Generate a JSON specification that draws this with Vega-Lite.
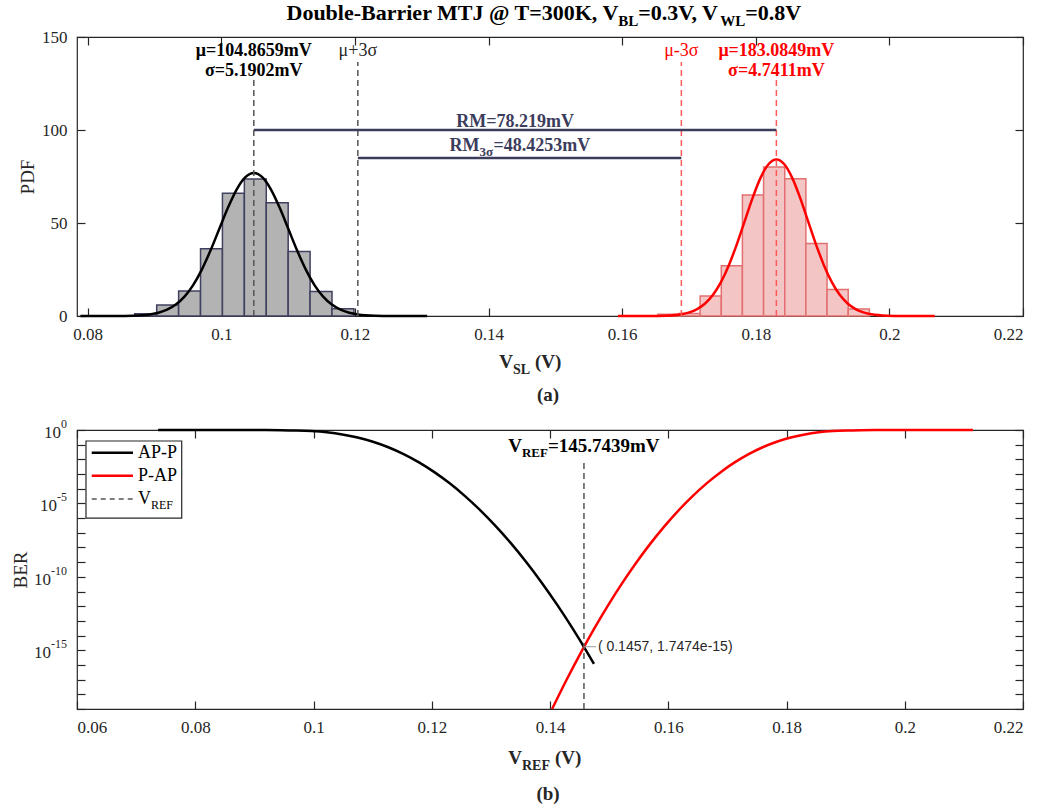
{
  "$schema": "https://vega.github.io/schema/vega-lite/v6.json",
  "background": "white",
  "padding": {"left": 10, "top": 1, "right": 0, "bottom": 2},
  "spacing": 114,
  "bounds": "flush",
  "config": {
    "view": {"stroke": "#262626", "strokeWidth": 1.2},
    "font": "Liberation Serif",
    "axis": {
      "labelFont": "Liberation Serif", "labelFontSize": 17, "labelColor": "#262626",
      "tickColor": "#262626", "tickSize": -8, "tickWidth": 1.2, "domain": false, "grid": false,
      "labelPadding": 18, "titleFont": "Liberation Serif", "titleFontSize": 19,
      "titleFontWeight": "normal", "titleColor": "#262626"
    }
  },
  "datasets": {
    "hist": [
      {"group": "AP", "x0": 0.08705, "x1": 0.09033, "pdf": 1.25},
      {"group": "AP", "x0": 0.09033, "x1": 0.09361, "pdf": 5.9},
      {"group": "AP", "x0": 0.09361, "x1": 0.09689, "pdf": 13.4},
      {"group": "AP", "x0": 0.09689, "x1": 0.10017, "pdf": 36.1},
      {"group": "AP", "x0": 0.10017, "x1": 0.10345, "pdf": 66.0},
      {"group": "AP", "x0": 0.10345, "x1": 0.10673, "pdf": 73.7},
      {"group": "AP", "x0": 0.10673, "x1": 0.11001, "pdf": 60.9},
      {"group": "AP", "x0": 0.11001, "x1": 0.11329, "pdf": 34.7},
      {"group": "AP", "x0": 0.11329, "x1": 0.11657, "pdf": 13.2},
      {"group": "AP", "x0": 0.11657, "x1": 0.11985, "pdf": 3.9},
      {"group": "P", "x0": 0.16534, "x1": 0.16850, "pdf": 0.9},
      {"group": "P", "x0": 0.16850, "x1": 0.17167, "pdf": 1.3},
      {"group": "P", "x0": 0.17167, "x1": 0.17484, "pdf": 10.7},
      {"group": "P", "x0": 0.17484, "x1": 0.17800, "pdf": 27.0},
      {"group": "P", "x0": 0.17800, "x1": 0.18117, "pdf": 65.0},
      {"group": "P", "x0": 0.18117, "x1": 0.18434, "pdf": 80.1},
      {"group": "P", "x0": 0.18434, "x1": 0.18750, "pdf": 73.8},
      {"group": "P", "x0": 0.18750, "x1": 0.19067, "pdf": 39.0},
      {"group": "P", "x0": 0.19067, "x1": 0.19384, "pdf": 14.3},
      {"group": "P", "x0": 0.19384, "x1": 0.19700, "pdf": 3.8}
    ],
    "pdf": [
      {"group": "AP", "v": 0.078915, "pdf": 0.0003},
      {"group": "AP", "v": 0.081510, "pdf": 0.003},
      {"group": "AP", "v": 0.084105, "pdf": 0.026},
      {"group": "AP", "v": 0.086700, "pdf": 0.168},
      {"group": "AP", "v": 0.089295, "pdf": 0.854},
      {"group": "AP", "v": 0.090593, "pdf": 1.75},
      {"group": "AP", "v": 0.091890, "pdf": 3.38},
      {"group": "AP", "v": 0.093188, "pdf": 6.12},
      {"group": "AP", "v": 0.094486, "pdf": 10.40},
      {"group": "AP", "v": 0.095783, "pdf": 16.62},
      {"group": "AP", "v": 0.097081, "pdf": 24.96},
      {"group": "AP", "v": 0.098378, "pdf": 35.19},
      {"group": "AP", "v": 0.099676, "pdf": 46.62},
      {"group": "AP", "v": 0.100973, "pdf": 58.02},
      {"group": "AP", "v": 0.102271, "pdf": 67.84},
      {"group": "AP", "v": 0.103568, "pdf": 74.51},
      {"group": "AP", "v": 0.104866, "pdf": 76.87},
      {"group": "AP", "v": 0.106164, "pdf": 74.51},
      {"group": "AP", "v": 0.107461, "pdf": 67.84},
      {"group": "AP", "v": 0.108759, "pdf": 58.02},
      {"group": "AP", "v": 0.110056, "pdf": 46.62},
      {"group": "AP", "v": 0.111354, "pdf": 35.19},
      {"group": "AP", "v": 0.112651, "pdf": 24.96},
      {"group": "AP", "v": 0.113949, "pdf": 16.62},
      {"group": "AP", "v": 0.115246, "pdf": 10.40},
      {"group": "AP", "v": 0.116544, "pdf": 6.12},
      {"group": "AP", "v": 0.117841, "pdf": 3.38},
      {"group": "AP", "v": 0.119139, "pdf": 1.75},
      {"group": "AP", "v": 0.120437, "pdf": 0.854},
      {"group": "AP", "v": 0.123032, "pdf": 0.168},
      {"group": "AP", "v": 0.125627, "pdf": 0.026},
      {"group": "AP", "v": 0.128222, "pdf": 0.003},
      {"group": "AP", "v": 0.130817, "pdf": 0.0003},
      {"group": "P", "v": 0.159379, "pdf": 0.0003},
      {"group": "P", "v": 0.161750, "pdf": 0.0034},
      {"group": "P", "v": 0.164121, "pdf": 0.028},
      {"group": "P", "v": 0.166491, "pdf": 0.184},
      {"group": "P", "v": 0.168862, "pdf": 0.935},
      {"group": "P", "v": 0.170047, "pdf": 1.92},
      {"group": "P", "v": 0.171232, "pdf": 3.70},
      {"group": "P", "v": 0.172417, "pdf": 6.70},
      {"group": "P", "v": 0.173603, "pdf": 11.39},
      {"group": "P", "v": 0.174788, "pdf": 18.20},
      {"group": "P", "v": 0.175973, "pdf": 27.32},
      {"group": "P", "v": 0.177159, "pdf": 38.53},
      {"group": "P", "v": 0.178344, "pdf": 51.04},
      {"group": "P", "v": 0.179529, "pdf": 63.52},
      {"group": "P", "v": 0.180714, "pdf": 74.26},
      {"group": "P", "v": 0.181900, "pdf": 81.56},
      {"group": "P", "v": 0.183085, "pdf": 84.15},
      {"group": "P", "v": 0.184270, "pdf": 81.56},
      {"group": "P", "v": 0.185456, "pdf": 74.26},
      {"group": "P", "v": 0.186641, "pdf": 63.52},
      {"group": "P", "v": 0.187826, "pdf": 51.04},
      {"group": "P", "v": 0.189011, "pdf": 38.53},
      {"group": "P", "v": 0.190197, "pdf": 27.32},
      {"group": "P", "v": 0.191382, "pdf": 18.20},
      {"group": "P", "v": 0.192567, "pdf": 11.39},
      {"group": "P", "v": 0.193752, "pdf": 6.70},
      {"group": "P", "v": 0.194938, "pdf": 3.70},
      {"group": "P", "v": 0.196123, "pdf": 1.92},
      {"group": "P", "v": 0.197308, "pdf": 0.935},
      {"group": "P", "v": 0.199679, "pdf": 0.184},
      {"group": "P", "v": 0.202049, "pdf": 0.028},
      {"group": "P", "v": 0.204420, "pdf": 0.0034},
      {"group": "P", "v": 0.206790, "pdf": 0.0003}
    ],
    "ber": [
      {"state": "AP-P", "vref": 0.0737247, "ber": 0.999999999},
      {"state": "AP-P", "vref": 0.0789149, "ber": 0.99999971},
      {"state": "AP-P", "vref": 0.0841051, "ber": 0.99996833},
      {"state": "AP-P", "vref": 0.0892953, "ber": 0.99865},
      {"state": "AP-P", "vref": 0.0918904, "ber": 0.99379},
      {"state": "AP-P", "vref": 0.0944855, "ber": 0.97725},
      {"state": "AP-P", "vref": 0.0970806, "ber": 0.93319},
      {"state": "AP-P", "vref": 0.0996757, "ber": 0.84134},
      {"state": "AP-P", "vref": 0.1022708, "ber": 0.69146},
      {"state": "AP-P", "vref": 0.1048659, "ber": 0.5},
      {"state": "AP-P", "vref": 0.1074610, "ber": 0.30854},
      {"state": "AP-P", "vref": 0.1100561, "ber": 0.15866},
      {"state": "AP-P", "vref": 0.1126512, "ber": 0.066807},
      {"state": "AP-P", "vref": 0.1152463, "ber": 0.02275},
      {"state": "AP-P", "vref": 0.1178414, "ber": 0.0062097},
      {"state": "AP-P", "vref": 0.1204365, "ber": 0.0013499},
      {"state": "AP-P", "vref": 0.1230316, "ber": 2.3263e-4},
      {"state": "AP-P", "vref": 0.1256267, "ber": 3.1671e-5},
      {"state": "AP-P", "vref": 0.1282218, "ber": 3.3977e-6},
      {"state": "AP-P", "vref": 0.1308169, "ber": 2.8665e-7},
      {"state": "AP-P", "vref": 0.1334120, "ber": 1.8990e-8},
      {"state": "AP-P", "vref": 0.1360071, "ber": 9.8659e-10},
      {"state": "AP-P", "vref": 0.1386022, "ber": 4.0160e-11},
      {"state": "AP-P", "vref": 0.1411973, "ber": 1.2798e-12},
      {"state": "AP-P", "vref": 0.1437924, "ber": 3.1909e-14},
      {"state": "AP-P", "vref": 0.1463875, "ber": 6.2210e-16},
      {"state": "AP-P", "vref": 0.1474256, "ber": 1.202e-16},
      {"state": "P-AP", "vref": 0.1403515, "ber": 1.0e-19},
      {"state": "P-AP", "vref": 0.1427855, "ber": 9.4795e-18},
      {"state": "P-AP", "vref": 0.1451561, "ber": 6.2210e-16},
      {"state": "P-AP", "vref": 0.1475266, "ber": 3.1909e-14},
      {"state": "P-AP", "vref": 0.1498972, "ber": 1.2798e-12},
      {"state": "P-AP", "vref": 0.1522677, "ber": 4.0160e-11},
      {"state": "P-AP", "vref": 0.1546383, "ber": 9.8659e-10},
      {"state": "P-AP", "vref": 0.1570088, "ber": 1.8990e-8},
      {"state": "P-AP", "vref": 0.1593794, "ber": 2.8665e-7},
      {"state": "P-AP", "vref": 0.1617499, "ber": 3.3977e-6},
      {"state": "P-AP", "vref": 0.1641205, "ber": 3.1671e-5},
      {"state": "P-AP", "vref": 0.1664910, "ber": 2.3263e-4},
      {"state": "P-AP", "vref": 0.1688616, "ber": 0.0013499},
      {"state": "P-AP", "vref": 0.1712321, "ber": 0.0062097},
      {"state": "P-AP", "vref": 0.1736027, "ber": 0.02275},
      {"state": "P-AP", "vref": 0.1759732, "ber": 0.066807},
      {"state": "P-AP", "vref": 0.1783438, "ber": 0.15866},
      {"state": "P-AP", "vref": 0.1807143, "ber": 0.30854},
      {"state": "P-AP", "vref": 0.1830849, "ber": 0.5},
      {"state": "P-AP", "vref": 0.1854555, "ber": 0.69146},
      {"state": "P-AP", "vref": 0.1878260, "ber": 0.84134},
      {"state": "P-AP", "vref": 0.1901966, "ber": 0.93319},
      {"state": "P-AP", "vref": 0.1925671, "ber": 0.97725},
      {"state": "P-AP", "vref": 0.1949377, "ber": 0.99379},
      {"state": "P-AP", "vref": 0.1973082, "ber": 0.99865},
      {"state": "P-AP", "vref": 0.2020493, "ber": 0.99996833},
      {"state": "P-AP", "vref": 0.2067904, "ber": 0.99999971},
      {"state": "P-AP", "vref": 0.2115315, "ber": 0.999999999}
    ]
  },
  "vconcat": [
    {
      "width": 946,
      "height": 279,
      "layer": [
        {
          "data": {"name": "hist"},
          "mark": {"type": "rect", "strokeWidth": 1.5},
          "encoding": {
            "x": {"field": "x0", "type": "quantitative", "scale": {"domain": [0.0784, 0.22], "nice": false, "zero": false},
                  "axis": {"orient": "bottom", "values": [0.08, 0.1, 0.12, 0.14, 0.16, 0.18, 0.2, 0.22], "format": "~g", "title": null}},
            "x2": {"field": "x1"},
            "y": {"field": "pdf", "type": "quantitative", "scale": {"domain": [0, 150], "nice": false},
                  "axis": {"orient": "left", "values": [0, 50, 100, 150], "title": "PDF", "titlePadding": 4}},
            "y2": {"datum": 0},
            "fill": {"field": "group", "type": "nominal", "scale": {"domain": ["AP", "P"], "range": ["#b3b3b3", "#f4c5c5"]}, "legend": null},
            "stroke": {"field": "group", "type": "nominal", "scale": {"domain": ["AP", "P"], "range": ["#404060", "#e27070"]}, "legend": null}
          }
        },
        {
          "data": {"name": "pdf"},
          "mark": {"type": "line", "strokeWidth": 2.5, "interpolate": "monotone"},
          "encoding": {
            "x": {"field": "v", "type": "quantitative", "axis": null},
            "y": {"field": "pdf", "type": "quantitative", "axis": null},
            "color": {"field": "group", "type": "nominal", "scale": {"domain": ["AP", "P"], "range": ["#000000", "#ff0000"]}, "legend": null}
          }
        },
        {
          "data": {"values": [{}]},
          "mark": {"type": "rule", "strokeDash": [6, 4], "strokeWidth": 1.5, "color": "#555555"},
          "encoding": {"x": {"datum": 0.1048659, "type": "quantitative", "axis": null}, "y": {"datum": 0, "type": "quantitative", "axis": null}, "y2": {"datum": 127}}
        },
        {
          "data": {"values": [{}]},
          "mark": {"type": "rule", "strokeDash": [6, 4], "strokeWidth": 1.5, "color": "#555555"},
          "encoding": {"x": {"datum": 0.1204365, "type": "quantitative", "axis": null}, "y": {"datum": 0, "type": "quantitative", "axis": null}, "y2": {"datum": 136.5}}
        },
        {
          "data": {"values": [{}]},
          "mark": {"type": "rule", "strokeDash": [6, 4], "strokeWidth": 1.5, "color": "#ff5a5a"},
          "encoding": {"x": {"datum": 0.1688616, "type": "quantitative", "axis": null}, "y": {"datum": 0, "type": "quantitative", "axis": null}, "y2": {"datum": 136.5}}
        },
        {
          "data": {"values": [{}]},
          "mark": {"type": "rule", "strokeDash": [6, 4], "strokeWidth": 1.5, "color": "#ff5a5a"},
          "encoding": {"x": {"datum": 0.1830849, "type": "quantitative", "axis": null}, "y": {"datum": 0, "type": "quantitative", "axis": null}, "y2": {"datum": 127}}
        },
        {
          "data": {"values": [{}]},
          "mark": {"type": "rule", "strokeWidth": 2.5, "color": "#3c3c5c"},
          "encoding": {
            "x": {"datum": 0.1048659, "type": "quantitative", "axis": {"orient": "top", "values": [0.08, 0.1, 0.12, 0.14, 0.16, 0.18, 0.2, 0.22], "labels": false, "title": null}},
            "x2": {"datum": 0.1830849},
            "y": {"datum": 100, "type": "quantitative", "axis": {"orient": "right", "values": [0, 50, 100, 150], "labels": false, "title": null}}
          }
        },
        {
          "data": {"values": [{}]},
          "mark": {"type": "rule", "strokeWidth": 2.5, "color": "#3c3c5c"},
          "encoding": {"x": {"datum": 0.1204365, "type": "quantitative", "axis": null}, "x2": {"datum": 0.1688616}, "y": {"datum": 85, "type": "quantitative", "axis": null}}
        },
        {
          "data": {"values": [{}]},
          "mark": {"type": "text", "fontSize": 18, "fontWeight": "bold", "color": "#000000", "align": "center", "baseline": "alphabetic"},
          "encoding": {"x": {"datum": 0.1048659, "type": "quantitative", "axis": null}, "y": {"datum": 139.8, "type": "quantitative", "axis": null}, "text": {"value": "μ=104.8659mV"}}
        },
        {
          "data": {"values": [{}]},
          "mark": {"type": "text", "fontSize": 18, "fontWeight": "bold", "color": "#000000", "align": "center", "baseline": "alphabetic"},
          "encoding": {"x": {"datum": 0.1048659, "type": "quantitative", "axis": null}, "y": {"datum": 129, "type": "quantitative", "axis": null}, "text": {"value": "σ=5.1902mV"}}
        },
        {
          "data": {"values": [{}]},
          "mark": {"type": "text", "fontSize": 18, "color": "#262626", "align": "center", "baseline": "alphabetic"},
          "encoding": {"x": {"datum": 0.1204365, "type": "quantitative", "axis": null}, "y": {"datum": 139.8, "type": "quantitative", "axis": null}, "text": {"value": "μ+3σ"}}
        },
        {
          "data": {"values": [{}]},
          "mark": {"type": "text", "fontSize": 18, "color": "#ff0000", "align": "center", "baseline": "alphabetic"},
          "encoding": {"x": {"datum": 0.1688616, "type": "quantitative", "axis": null}, "y": {"datum": 139.8, "type": "quantitative", "axis": null}, "text": {"value": "μ-3σ"}}
        },
        {
          "data": {"values": [{}]},
          "mark": {"type": "text", "fontSize": 18, "fontWeight": "bold", "color": "#ff0000", "align": "center", "baseline": "alphabetic"},
          "encoding": {"x": {"datum": 0.1830849, "type": "quantitative", "axis": null}, "y": {"datum": 139.8, "type": "quantitative", "axis": null}, "text": {"value": "μ=183.0849mV"}}
        },
        {
          "data": {"values": [{}]},
          "mark": {"type": "text", "fontSize": 18, "fontWeight": "bold", "color": "#ff0000", "align": "center", "baseline": "alphabetic"},
          "encoding": {"x": {"datum": 0.1830849, "type": "quantitative", "axis": null}, "y": {"datum": 129, "type": "quantitative", "axis": null}, "text": {"value": "σ=4.7411mV"}}
        },
        {
          "data": {"values": [{}]},
          "mark": {"type": "text", "fontSize": 18, "fontWeight": "bold", "color": "#3c3c5c", "align": "center", "baseline": "alphabetic"},
          "encoding": {"x": {"datum": 0.14398, "type": "quantitative", "axis": null}, "y": {"datum": 101.5, "type": "quantitative", "axis": null}, "text": {"value": "RM=78.219mV"}}
        },
        {
          "data": {"values": [{}]},
          "mark": {"type": "text", "fontSize": 18, "fontWeight": "bold", "color": "#3c3c5c", "align": "right", "baseline": "alphabetic", "dx": -40},
          "encoding": {"x": {"datum": 0.14465, "type": "quantitative", "axis": null}, "y": {"datum": 88.5, "type": "quantitative", "axis": null}, "text": {"value": "RM"}}
        },
        {
          "data": {"values": [{}]},
          "mark": {"type": "text", "fontSize": 13, "fontWeight": "bold", "color": "#3c3c5c", "align": "left", "baseline": "alphabetic", "dx": -40, "dy": 5},
          "encoding": {"x": {"datum": 0.14465, "type": "quantitative", "axis": null}, "y": {"datum": 88.5, "type": "quantitative", "axis": null}, "text": {"value": "3σ"}}
        },
        {
          "data": {"values": [{}]},
          "mark": {"type": "text", "fontSize": 18, "fontWeight": "bold", "color": "#3c3c5c", "align": "left", "baseline": "alphabetic", "dx": -26},
          "encoding": {"x": {"datum": 0.14465, "type": "quantitative", "axis": null}, "y": {"datum": 88.5, "type": "quantitative", "axis": null}, "text": {"value": "=48.4253mV"}}
        },
        {
          "data": {"values": [{}]},
          "mark": {"type": "text", "fontSize": 22, "fontWeight": "bold", "color": "#000000", "align": "right", "baseline": "alphabetic", "dx": 75},
          "encoding": {"x": {"datum": 0.1482, "type": "quantitative", "axis": null}, "y": {"datum": 159, "type": "quantitative", "axis": null}, "text": {"value": "Double-Barrier MTJ @ T=300K, V"}}
        },
        {
          "data": {"values": [{}]},
          "mark": {"type": "text", "fontSize": 15, "fontWeight": "bold", "color": "#000000", "align": "left", "baseline": "alphabetic", "dx": 75, "dy": 6},
          "encoding": {"x": {"datum": 0.1482, "type": "quantitative", "axis": null}, "y": {"datum": 159, "type": "quantitative", "axis": null}, "text": {"value": "BL"}}
        },
        {
          "data": {"values": [{}]},
          "mark": {"type": "text", "fontSize": 22, "fontWeight": "bold", "color": "#000000", "align": "left", "baseline": "alphabetic", "dx": 95},
          "encoding": {"x": {"datum": 0.1482, "type": "quantitative", "axis": null}, "y": {"datum": 159, "type": "quantitative", "axis": null}, "text": {"value": "=0.3V, V"}}
        },
        {
          "data": {"values": [{}]},
          "mark": {"type": "text", "fontSize": 15, "fontWeight": "bold", "color": "#000000", "align": "left", "baseline": "alphabetic", "dx": 177, "dy": 6},
          "encoding": {"x": {"datum": 0.1482, "type": "quantitative", "axis": null}, "y": {"datum": 159, "type": "quantitative", "axis": null}, "text": {"value": "WL"}}
        },
        {
          "data": {"values": [{}]},
          "mark": {"type": "text", "fontSize": 22, "fontWeight": "bold", "color": "#000000", "align": "left", "baseline": "alphabetic", "dx": 202},
          "encoding": {"x": {"datum": 0.1482, "type": "quantitative", "axis": null}, "y": {"datum": 159, "type": "quantitative", "axis": null}, "text": {"value": "=0.8V"}}
        },
        {
          "data": {"values": [{}]},
          "mark": {"type": "text", "fontSize": 19, "fontWeight": "bold", "color": "#262626", "align": "right", "baseline": "alphabetic", "dx": -17},
          "encoding": {"x": {"datum": 0.14621, "type": "quantitative", "axis": null}, "y": {"datum": -28, "type": "quantitative", "axis": null}, "text": {"value": "V"}}
        },
        {
          "data": {"values": [{}]},
          "mark": {"type": "text", "fontSize": 14, "fontWeight": "bold", "color": "#262626", "align": "left", "baseline": "alphabetic", "dx": -17, "dy": 6},
          "encoding": {"x": {"datum": 0.14621, "type": "quantitative", "axis": null}, "y": {"datum": -28, "type": "quantitative", "axis": null}, "text": {"value": "SL"}}
        },
        {
          "data": {"values": [{}]},
          "mark": {"type": "text", "fontSize": 19, "fontWeight": "bold", "color": "#262626", "align": "left", "baseline": "alphabetic", "dx": 5},
          "encoding": {"x": {"datum": 0.14621, "type": "quantitative", "axis": null}, "y": {"datum": -28, "type": "quantitative", "axis": null}, "text": {"value": "(V)"}}
        },
        {
          "data": {"values": [{}]},
          "mark": {"type": "text", "fontSize": 19, "fontWeight": "bold", "color": "#262626", "align": "center", "baseline": "alphabetic"},
          "encoding": {"x": {"datum": 0.1489, "type": "quantitative", "axis": null}, "y": {"datum": -45.5, "type": "quantitative", "axis": null}, "text": {"value": "(a)"}}
        }
      ]
    },
    {
      "width": 946,
      "height": 279,
      "layer": [
        {
          "data": {"name": "ber"},
          "mark": {"type": "line", "strokeWidth": 2.5, "interpolate": "monotone"},
          "encoding": {
            "x": {"field": "vref", "type": "quantitative", "scale": {"domain": [0.06, 0.22], "nice": false, "zero": false},
                  "axis": {"orient": "bottom", "values": [0.06, 0.08, 0.1, 0.12, 0.14, 0.16, 0.18, 0.2, 0.22], "format": "~g", "title": null}},
            "y": {"field": "ber", "type": "quantitative", "scale": {"type": "log", "domain": [1e-19, 1], "nice": false},
                  "axis": {"orient": "left", "values": [1, 1e-1, 1e-2, 1e-3, 1e-4, 1e-5, 1e-6, 1e-7, 1e-8, 1e-9, 1e-10, 1e-11, 1e-12, 1e-13, 1e-14, 1e-15, 1e-16, 1e-17, 1e-18, 1e-19],
                           "labels": false, "title": "BER", "titlePadding": 46}},
            "color": {"field": "state", "type": "nominal", "scale": {"domain": ["AP-P", "P-AP"], "range": ["#000000", "#ff0000"]}, "legend": null}
          }
        },
        {
          "data": {"values": [{}]},
          "mark": {"type": "rule", "strokeDash": [6, 4], "strokeWidth": 1.5, "color": "#555555"},
          "encoding": {
            "x": {"datum": 0.1457439, "type": "quantitative", "axis": {"orient": "top", "values": [0.06, 0.08, 0.1, 0.12, 0.14, 0.16, 0.18, 0.2, 0.22], "labels": false, "title": null}},
            "y": {"datum": 1e-19, "type": "quantitative", "axis": {"orient": "right", "values": [1, 1e-1, 1e-2, 1e-3, 1e-4, 1e-5, 1e-6, 1e-7, 1e-8, 1e-9, 1e-10, 1e-11, 1e-12, 1e-13, 1e-14, 1e-15, 1e-16, 1e-17, 1e-18, 1e-19], "labels": false, "title": null}},
            "y2": {"datum": 0.0066}
          }
        },
        {
          "data": {"values": [{}]},
          "mark": {"type": "text", "fontSize": 17, "color": "#262626", "align": "right", "baseline": "middle", "dx": -16, "dy": 3},
          "encoding": {"x": {"datum": 0.06, "type": "quantitative", "axis": null}, "y": {"datum": 1, "type": "quantitative", "axis": null}, "text": {"value": "10"}}
        },
        {
          "data": {"values": [{}]},
          "mark": {"type": "text", "fontSize": 12, "color": "#262626", "align": "right", "baseline": "middle", "dx": -10, "dy": -6},
          "encoding": {"x": {"datum": 0.06, "type": "quantitative", "axis": null}, "y": {"datum": 1, "type": "quantitative", "axis": null}, "text": {"value": "0"}}
        },
        {
          "data": {"values": [{}]},
          "mark": {"type": "text", "fontSize": 17, "color": "#262626", "align": "right", "baseline": "middle", "dx": -20, "dy": 3},
          "encoding": {"x": {"datum": 0.06, "type": "quantitative", "axis": null}, "y": {"datum": 1e-5, "type": "quantitative", "axis": null}, "text": {"value": "10"}}
        },
        {
          "data": {"values": [{}]},
          "mark": {"type": "text", "fontSize": 12, "color": "#262626", "align": "right", "baseline": "middle", "dx": -10, "dy": -6},
          "encoding": {"x": {"datum": 0.06, "type": "quantitative", "axis": null}, "y": {"datum": 1e-5, "type": "quantitative", "axis": null}, "text": {"value": "-5"}}
        },
        {
          "data": {"values": [{}]},
          "mark": {"type": "text", "fontSize": 17, "color": "#262626", "align": "right", "baseline": "middle", "dx": -26, "dy": 3},
          "encoding": {"x": {"datum": 0.06, "type": "quantitative", "axis": null}, "y": {"datum": 1e-10, "type": "quantitative", "axis": null}, "text": {"value": "10"}}
        },
        {
          "data": {"values": [{}]},
          "mark": {"type": "text", "fontSize": 12, "color": "#262626", "align": "right", "baseline": "middle", "dx": -10, "dy": -6},
          "encoding": {"x": {"datum": 0.06, "type": "quantitative", "axis": null}, "y": {"datum": 1e-10, "type": "quantitative", "axis": null}, "text": {"value": "-10"}}
        },
        {
          "data": {"values": [{}]},
          "mark": {"type": "text", "fontSize": 17, "color": "#262626", "align": "right", "baseline": "middle", "dx": -26, "dy": 3},
          "encoding": {"x": {"datum": 0.06, "type": "quantitative", "axis": null}, "y": {"datum": 1e-15, "type": "quantitative", "axis": null}, "text": {"value": "10"}}
        },
        {
          "data": {"values": [{}]},
          "mark": {"type": "text", "fontSize": 12, "color": "#262626", "align": "right", "baseline": "middle", "dx": -10, "dy": -6},
          "encoding": {"x": {"datum": 0.06, "type": "quantitative", "axis": null}, "y": {"datum": 1e-15, "type": "quantitative", "axis": null}, "text": {"value": "-15"}}
        },
        {
          "data": {"values": [{}]},
          "mark": {"type": "rule", "strokeWidth": 1, "color": "#999999"},
          "encoding": {"x": {"datum": 0.1457439, "type": "quantitative", "axis": null}, "x2": {"datum": 0.1478}, "y": {"datum": 1.7474e-15, "type": "quantitative", "axis": null}}
        },
        {
          "data": {"values": [{}]},
          "mark": {"type": "text", "font": "Liberation Sans", "fontSize": 14, "color": "#262626", "align": "left", "baseline": "middle"},
          "encoding": {"x": {"datum": 0.1481, "type": "quantitative", "axis": null}, "y": {"datum": 1.7474e-15, "type": "quantitative", "axis": null}, "text": {"value": "( 0.1457, 1.7474e-15)"}}
        },
        {
          "data": {"values": [{}]},
          "mark": {"type": "text", "fontSize": 19, "fontWeight": "bold", "color": "#000000", "align": "right", "baseline": "alphabetic", "dx": -62},
          "encoding": {"x": {"datum": 0.1457439, "type": "quantitative", "axis": null}, "y": {"datum": 0.0316, "type": "quantitative", "axis": null}, "text": {"value": "V"}}
        },
        {
          "data": {"values": [{}]},
          "mark": {"type": "text", "fontSize": 13, "fontWeight": "bold", "color": "#000000", "align": "left", "baseline": "alphabetic", "dx": -62, "dy": 5},
          "encoding": {"x": {"datum": 0.1457439, "type": "quantitative", "axis": null}, "y": {"datum": 0.0316, "type": "quantitative", "axis": null}, "text": {"value": "REF"}}
        },
        {
          "data": {"values": [{}]},
          "mark": {"type": "text", "fontSize": 19, "fontWeight": "bold", "color": "#000000", "align": "left", "baseline": "alphabetic", "dx": -36},
          "encoding": {"x": {"datum": 0.1457439, "type": "quantitative", "axis": null}, "y": {"datum": 0.0316, "type": "quantitative", "axis": null}, "text": {"value": "=145.7439mV"}}
        },
        {
          "data": {"values": [{}]},
          "mark": {"type": "rect", "fill": "white", "stroke": "#262626", "strokeWidth": 1.2},
          "encoding": {"x": {"datum": 0.06152, "type": "quantitative", "axis": null}, "x2": {"datum": 0.07771}, "y": {"datum": 0.178, "type": "quantitative", "axis": null}, "y2": {"datum": 1e-6}}
        },
        {
          "data": {"values": [{}]},
          "mark": {"type": "rule", "strokeWidth": 2.5, "color": "#000000"},
          "encoding": {"x": {"datum": 0.06249, "type": "quantitative", "axis": null}, "x2": {"datum": 0.06947}, "y": {"datum": 0.0282, "type": "quantitative", "axis": null}}
        },
        {
          "data": {"values": [{}]},
          "mark": {"type": "rule", "strokeWidth": 2.5, "color": "#ff0000"},
          "encoding": {"x": {"datum": 0.06249, "type": "quantitative", "axis": null}, "x2": {"datum": 0.06947}, "y": {"datum": 7.6e-4, "type": "quantitative", "axis": null}}
        },
        {
          "data": {"values": [{}]},
          "mark": {"type": "rule", "strokeWidth": 1.5, "strokeDash": [5, 4], "color": "#555555"},
          "encoding": {"x": {"datum": 0.06249, "type": "quantitative", "axis": null}, "x2": {"datum": 0.06947}, "y": {"datum": 2.0e-5, "type": "quantitative", "axis": null}}
        },
        {
          "data": {"values": [{}]},
          "mark": {"type": "text", "fontSize": 18, "color": "#000000", "align": "left", "baseline": "middle"},
          "encoding": {"x": {"datum": 0.07032, "type": "quantitative", "axis": null}, "y": {"datum": 0.0282, "type": "quantitative", "axis": null}, "text": {"value": "AP-P"}}
        },
        {
          "data": {"values": [{}]},
          "mark": {"type": "text", "fontSize": 18, "color": "#000000", "align": "left", "baseline": "middle"},
          "encoding": {"x": {"datum": 0.07032, "type": "quantitative", "axis": null}, "y": {"datum": 7.6e-4, "type": "quantitative", "axis": null}, "text": {"value": "P-AP"}}
        },
        {
          "data": {"values": [{}]},
          "mark": {"type": "text", "fontSize": 18, "color": "#000000", "align": "left", "baseline": "middle"},
          "encoding": {"x": {"datum": 0.07032, "type": "quantitative", "axis": null}, "y": {"datum": 2.0e-5, "type": "quantitative", "axis": null}, "text": {"value": "V"}}
        },
        {
          "data": {"values": [{}]},
          "mark": {"type": "text", "fontSize": 12, "color": "#000000", "align": "left", "baseline": "middle", "dx": 13, "dy": 6},
          "encoding": {"x": {"datum": 0.07032, "type": "quantitative", "axis": null}, "y": {"datum": 2.0e-5, "type": "quantitative", "axis": null}, "text": {"value": "REF"}}
        },
        {
          "data": {"values": [{}]},
          "mark": {"type": "text", "fontSize": 19, "fontWeight": "bold", "color": "#262626", "align": "right", "baseline": "alphabetic", "dx": -23},
          "encoding": {"x": {"datum": 0.13915, "type": "quantitative", "axis": null}, "y": {"datum": 1.7e-23, "type": "quantitative", "axis": null}, "text": {"value": "V"}}
        },
        {
          "data": {"values": [{}]},
          "mark": {"type": "text", "fontSize": 14, "fontWeight": "bold", "color": "#262626", "align": "left", "baseline": "alphabetic", "dx": -23, "dy": 6},
          "encoding": {"x": {"datum": 0.13915, "type": "quantitative", "axis": null}, "y": {"datum": 1.7e-23, "type": "quantitative", "axis": null}, "text": {"value": "REF"}}
        },
        {
          "data": {"values": [{}]},
          "mark": {"type": "text", "fontSize": 19, "fontWeight": "bold", "color": "#262626", "align": "left", "baseline": "alphabetic", "dx": 10},
          "encoding": {"x": {"datum": 0.13915, "type": "quantitative", "axis": null}, "y": {"datum": 1.7e-23, "type": "quantitative", "axis": null}, "text": {"value": "(V)"}}
        },
        {
          "data": {"values": [{}]},
          "mark": {"type": "text", "fontSize": 19, "fontWeight": "bold", "color": "#262626", "align": "center", "baseline": "alphabetic"},
          "encoding": {"x": {"datum": 0.13966, "type": "quantitative", "axis": null}, "y": {"datum": 6.3e-26, "type": "quantitative", "axis": null}, "text": {"value": "(b)"}}
        }
      ]
    }
  ]
}
